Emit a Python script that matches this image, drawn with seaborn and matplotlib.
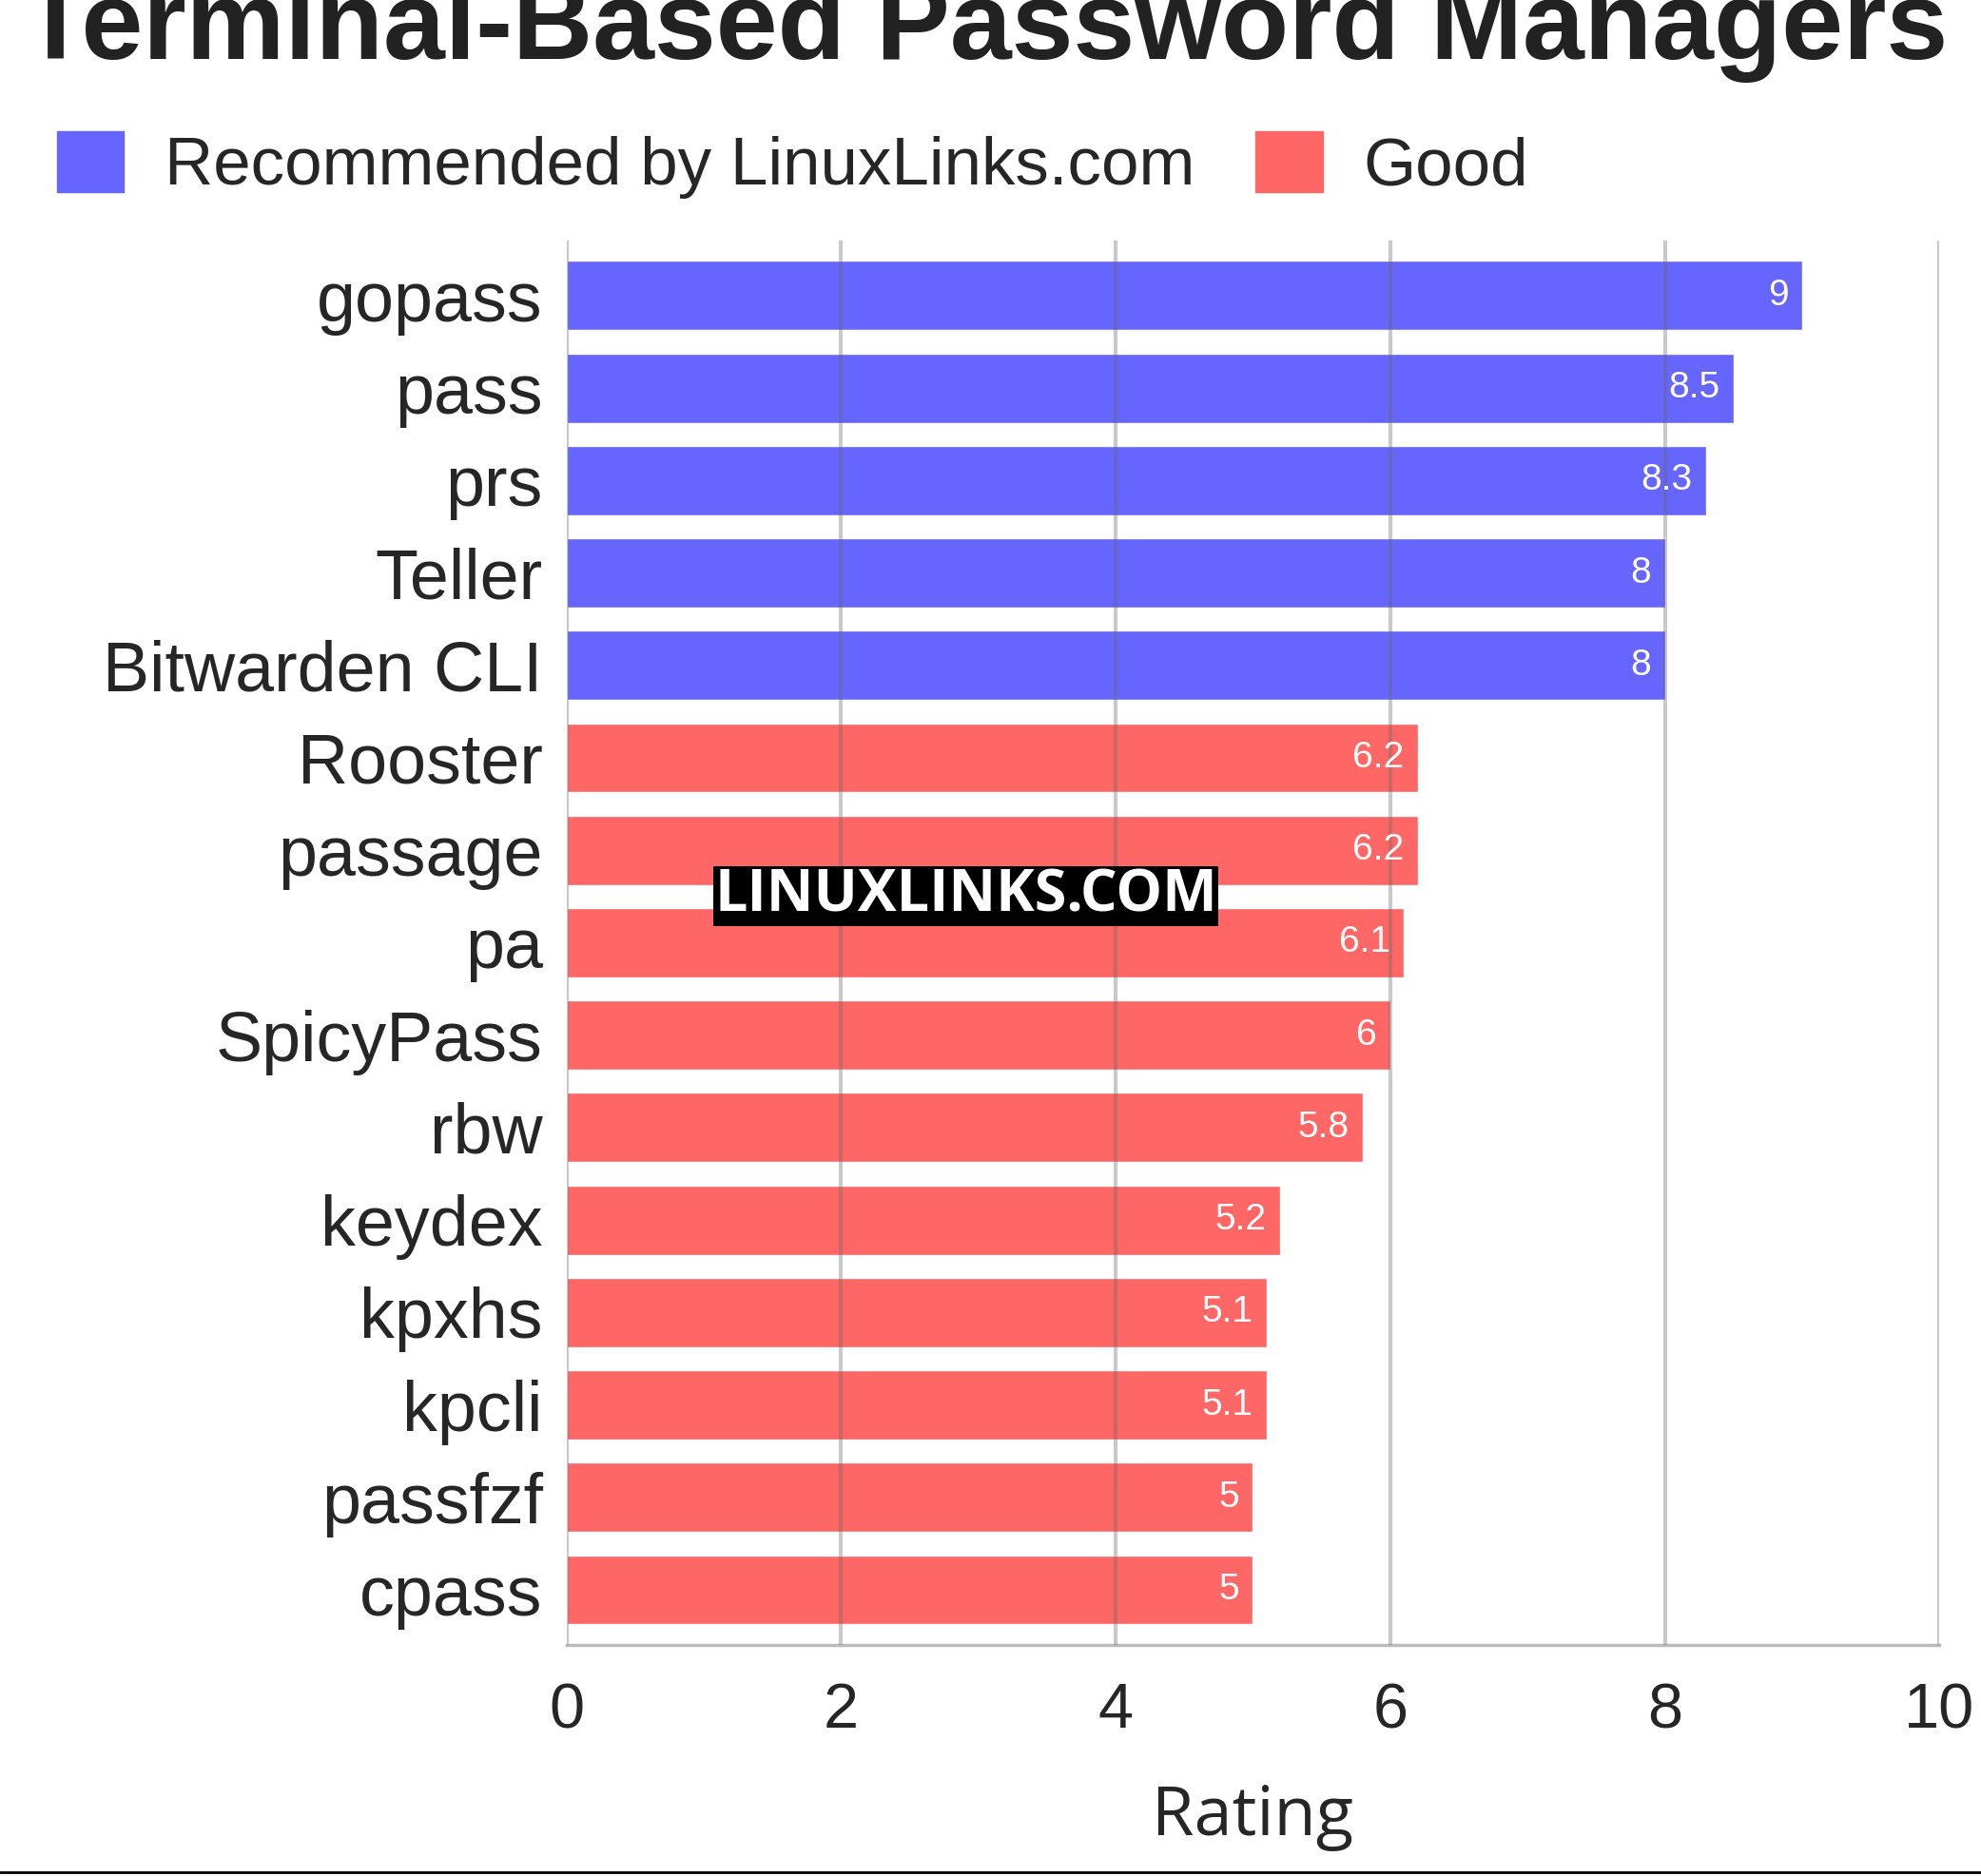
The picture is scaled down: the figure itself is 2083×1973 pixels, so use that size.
import matplotlib
matplotlib.use("Agg")
import matplotlib.pyplot as plt
import seaborn as sns
import pandas as pd
from matplotlib.lines import Line2D
from matplotlib.patches import Patch

names = ["gopass", "pass", "prs", "Teller", "Bitwarden CLI", "Rooster", "passage", "pa",
         "SpicyPass", "rbw", "keydex", "kpxhs", "kpcli", "passfzf", "cpass"]
ratings = [9, 8.5, 8.3, 8, 8, 6.2, 6.2, 6.1, 6, 5.8, 5.2, 5.1, 5.1, 5, 5]
groups = ["Recommended by LinuxLinks.com"] * 5 + ["Good"] * 10
xticks = [0, 2, 4, 6, 8, 10]

df = pd.DataFrame({"name": names, "rating": ratings, "group": groups})
sns.set_style("white")
plt.rcParams['font.family'] = ['Liberation Sans', 'DejaVu Sans']

palette = {"Recommended by LinuxLinks.com": "#6666ff", "Good": "#ff6666"}
fig = plt.figure(figsize=(20.83, 19.73), dpi=100)
ax = fig.add_axes([0.286, 0.123, 0.693, 0.749])
sns.barplot(data=df, y="name", x="rating", hue="group", palette=palette, dodge=False,
            width=0.75, ax=ax, legend=False, saturation=1)
ax.set_xlim(0, 10)
ax.set_ylim(14.6, -0.6)
ax.set_xticks(xticks)
ax.set_xticklabels([str(t) for t in xticks], fontsize=48)
ax.tick_params(axis='y', labelsize=53, length=0, pad=18)
ax.tick_params(axis='x', length=0, pad=28)
for t in xticks:
    ax.axvline(t, color="#666666", alpha=0.35, lw=3, zorder=5)
for s in ["top", "right", "left"]:
    ax.spines[s].set_visible(False)
ax.spines["bottom"].set_color("#bbbbbb")
ax.spines["bottom"].set_linewidth(2.5)
ax.set_ylabel("")
ax.set_xlabel("Rating", fontsize=52, family=["Open Sans", "DejaVu Sans"], labelpad=32)

for i, v in enumerate(ratings):
    ax.text(v - 0.1, i, f"{v:g}", color="white", fontsize=28, ha="right", va="center", zorder=6)

ax.text(0.291, 0.533, "LINUXLINKS.COM", transform=ax.transAxes, fontsize=44, weight="bold",
        color="white", family=["Open Sans", "DejaVu Sans"], ha="center", va="center", zorder=7,
        bbox=dict(facecolor="black", edgecolor="none", pad=1))

fig.text(0.011, 0.984, "Terminal-Based Password Managers", fontsize=84, weight="bold",
         color="#222222", ha="left", va="center")
handles = [Patch(color="#6666ff"), Patch(color="#ff6666")]
fig.legend(handles, ["Recommended by LinuxLinks.com", "Good"], loc="center left",
           bbox_to_anchor=(-0.002, 0.912), ncol=2, frameon=False, fontsize=51,
           handlelength=1.0, handleheight=1.0, handletextpad=0.6, columnspacing=0.9)
fig.add_artist(Line2D([0, 1], [0.002, 0.002], color="black", lw=2, transform=fig.transFigure))
fig.savefig("out.png", dpi=100)
